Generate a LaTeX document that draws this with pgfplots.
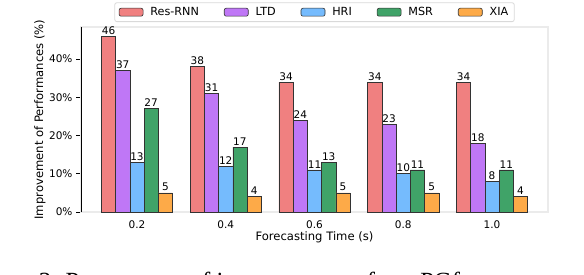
\documentclass[border=0pt]{standalone}
\usepackage{fontspec}
\setmainfont{DejaVu Sans}
\newfontfamily\capfont{Liberation Serif}
\usepackage{pgfplots}
\pgfplotsset{compat=1.18}
\definecolor{cRes}{HTML}{F08080}
\definecolor{cLTD}{HTML}{BF77F6}
\definecolor{cHRI}{HTML}{75BBFD}
\definecolor{cMSR}{HTML}{40A368}
\definecolor{cXIA}{HTML}{FDAA48}
\definecolor{frame}{HTML}{EBEBEB}
\begin{document}
\begin{tikzpicture}[font=\fontsize{10.5}{12}\selectfont]
\useasboundingbox (0,0) rectangle (584pt,274pt);
\begin{axis}[
  at={(81pt,62pt)}, anchor=south west,
  scale only axis, width=467pt, height=185pt,
  xmin=-0.63, xmax=4.63, ymin=0, ymax=48.4,
  xtick={0,1,2,3,4}, xticklabels={0.2,0.4,0.6,0.8,1.0},
  ytick={0,10,20,30,40},
  yticklabel={\pgfmathprintnumber{\tick}\%},
  /pgf/number format/assume math mode=true,
  x tick style={draw=none},
  y tick style={draw=black, line width=0.6pt},
  tick align=outside, tickpos=left, major tick length=5pt,
  axis line style={draw=frame, line width=1.2pt},
  ylabel={Improvement of Performances (\%)},
  xlabel={Forecasting Time (s)},
  ylabel style={at={(axis description cs:-0.088,0.5)}, anchor=center, font=\fontsize{11.6}{13}\selectfont},
  xlabel style={at={(axis description cs:0.5,-0.135)}, anchor=center, font=\fontsize{11.6}{13}\selectfont},
  ybar, bar width=0.16,
  every axis plot/.append style={draw=black!80, line width=0.6pt},
  nodes near coords,
  nodes near coords style={font=\fontsize{10.5}{12}\selectfont, inner sep=1.5pt, anchor=south, text=black},
  legend columns=5,
  legend style={at={(axis description cs:0.5,1)}, anchor=south, yshift=5pt,
    draw=black!15, rounded corners=2pt, line width=0.8pt,
    font=\fontsize{11.2}{13}\selectfont,
    /tikz/every odd column/.append style={column sep=5pt},
    /tikz/every even column/.append style={column sep=23pt},
    inner xsep=4pt, inner ysep=2.5pt},
  legend image code/.code={\draw[#1] (0pt,-4pt) rectangle (24pt,4pt);},
  after end axis/.code={\draw[black, line width=0.8pt] (rel axis cs:0,0) -- (rel axis cs:0,1);},
]
\addplot[fill=cRes, bar shift=-0.32] coordinates {(0,46) (1,38) (2,34) (3,34) (4,34)};
\addplot[fill=cLTD, bar shift=-0.16] coordinates {(0,37) (1,31) (2,24) (3,23) (4,18)};
\addplot[fill=cHRI, bar shift=0] coordinates {(0,13) (1,12) (2,11) (3,10) (4,8)};
\addplot[fill=cMSR, bar shift=0.16] coordinates {(0,27) (1,17) (2,13) (3,11) (4,11)};
\addplot[fill=cXIA, bar shift=0.32] coordinates {(0,5) (1,4) (2,5) (3,5) (4,4)};
\legend{Res-RNN, LTD, HRI, MSR, XIA}
\end{axis}
\node[anchor=base west, inner sep=0pt, font=\capfont\fontsize{24.7}{28}\selectfont] at (-32pt,-15pt) {Figure 3. Percentages of improvement of our PGformer compared to};
\end{tikzpicture}
\end{document}
